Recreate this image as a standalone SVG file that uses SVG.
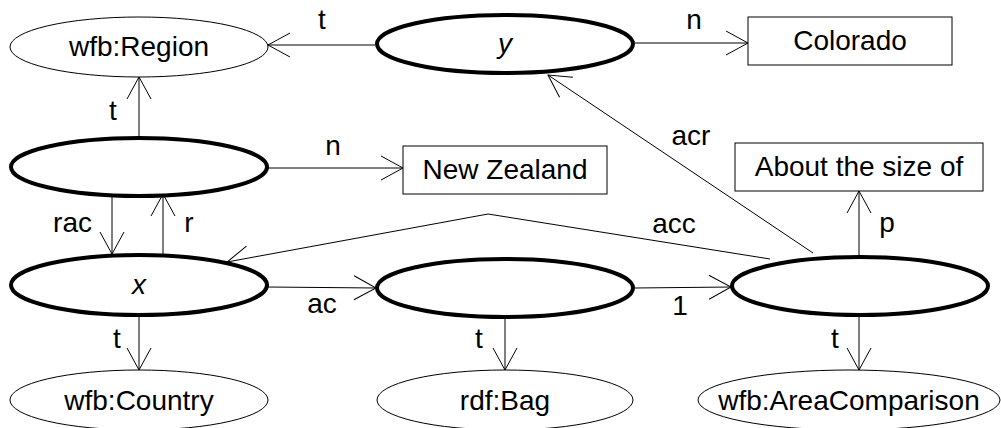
<svg xmlns="http://www.w3.org/2000/svg" width="1001" height="428" viewBox="0 0 1001 428">
<style>
text{font-family:"Liberation Sans",Arial,sans-serif;font-size:28px;fill:#000;text-anchor:middle}
.thick{fill:#fff;stroke:#000;stroke-width:4}
.thin{fill:#fff;stroke:#000;stroke-width:1}
.e{fill:none;stroke:#000;stroke-width:1;marker-end:url(#arr)}
.it{font-style:italic}
</style>
<defs>
<marker id="arr" markerUnits="userSpaceOnUse" markerWidth="24" markerHeight="26" viewBox="0 0 24 26" refX="23" refY="13" orient="auto">
<path d="M1,1 L23,13 L1,25" fill="none" stroke="#000" stroke-width="1"/>
</marker>
</defs>
<rect width="1001" height="428" fill="#fff"/>
<g id="edges">
<path class="e" d="M375,45 L268,45"/>
<path class="e" d="M635,43 L748,43"/>
<path class="e" d="M139,137 L139,77"/>
<path class="e" d="M267,168 L403,168"/>
<path class="e" d="M112,196 L112,254"/>
<path class="e" d="M163,256 L163,194"/>
<path class="e" d="M268,287 L376,288"/>
<path class="e" d="M139,315 L139,370"/>
<path class="e" d="M505,317 L505,370"/>
<path class="e" d="M635,288 L731,287"/>
<path class="e" d="M859,257 L859,191"/>
<path class="e" d="M859,315 L859,370"/>
<path class="e" d="M813,253 L548,75"/>
<path class="e" d="M770,259 L488,214 L227,262"/>
<text x="322" y="29">t</text>
<text x="694" y="29">n</text>
<text x="113" y="120">t</text>
<text x="333" y="155">n</text>
<text x="92" y="232" style="text-anchor:end">rac</text>
<text x="189" y="232">r</text>
<text x="322" y="313">ac</text>
<text x="117" y="348">t</text>
<text x="479" y="348">t</text>
<text x="680" y="315">1</text>
<text x="887" y="232">p</text>
<text x="835" y="348">t</text>
<text x="691" y="145">acr</text>
<text x="674" y="233">acc</text>
</g>
<g id="n-region"><ellipse class="thin" cx="139" cy="47" rx="129" ry="30"/><text x="139" y="56">wfb:Region</text></g>
<g id="n-y"><ellipse class="thick" cx="505" cy="44" rx="128" ry="29"/><text class="it" x="505" y="53">y</text></g>
<g id="n-colorado"><rect class="thin" x="748" y="17" width="204" height="48"/><text x="850" y="50">Colorado</text></g>
<g id="n-region-node"><ellipse class="thick" cx="139" cy="167" rx="128" ry="29"/></g>
<g id="n-newzealand"><rect class="thin" x="403" y="146" width="204" height="48"/><text x="505" y="179">New Zealand</text></g>
<g id="n-about"><rect class="thin" x="735" y="143" width="248" height="48"/><text x="859" y="176">About the size of</text></g>
<g id="n-x"><ellipse class="thick" cx="139" cy="285" rx="128" ry="30"/><text class="it" x="139" y="294">x</text></g>
<g id="n-bag-node"><ellipse class="thick" cx="505" cy="288" rx="128" ry="29"/></g>
<g id="n-ac-node"><ellipse class="thick" cx="860" cy="286" rx="128" ry="29"/></g>
<g id="n-country"><ellipse class="thin" cx="139" cy="400" rx="129" ry="30"/><text x="139" y="410">wfb:Country</text></g>
<g id="n-bag"><ellipse class="thin" cx="505" cy="400" rx="128" ry="30"/><text x="505" y="410">rdf:Bag</text></g>
<g id="n-areacomp"><ellipse class="thin" cx="849" cy="400" rx="151" ry="30"/><text x="849" y="410">wfb:AreaComparison</text></g>
</svg>
